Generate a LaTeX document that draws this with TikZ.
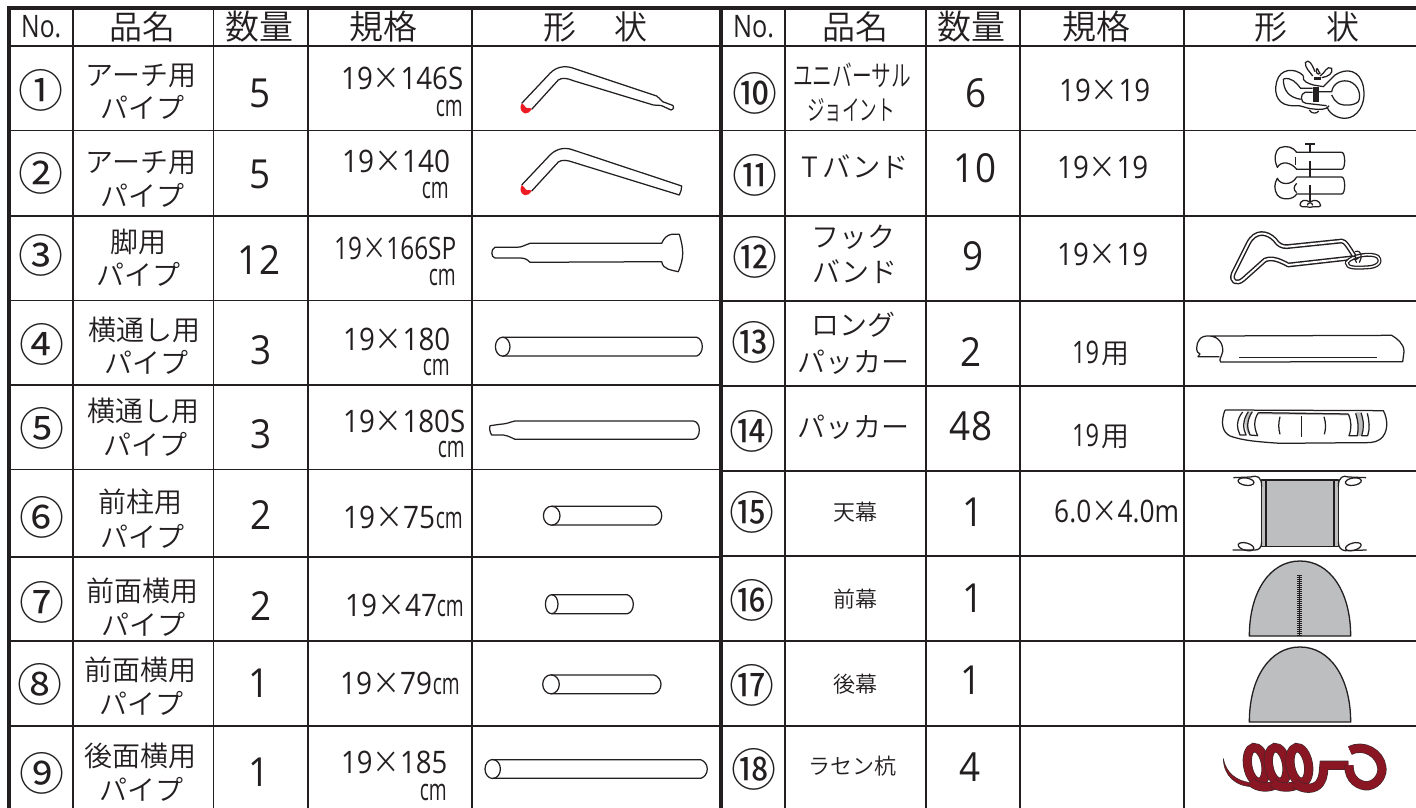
\documentclass[tikz,border=0pt]{standalone}
\usepackage{fontspec}
\usepackage{graphicx}
\IfFontExistsTF{Noto Sans CJK JP DemiLight}{\newfontfamily\jp{Noto Sans CJK JP DemiLight}}{\newfontfamily\jp{Noto Sans CJK JP}}
\newfontfamily\jpr{Noto Sans CJK JP}
\newfontfamily\numf{Open Sans}
\newfontfamily\qtf[FakeStretch=0.92]{Open Sans}
\definecolor{ink}{HTML}{231F20}
\definecolor{tent}{HTML}{BCBEC0}
\definecolor{coil}{HTML}{8A1523}
\definecolor{coiledge}{HTML}{3A2A2C}
\definecolor{capred}{HTML}{ED1C24}
\newcount\nn
\newcommand\nx{\global\advance\nn by 1 }
\newcommand\sx[2]{\resizebox{#1pt}{\height}{#2}}
\newcommand\jt[4]{\nx\node[txt,anchor=base] (t\the\nn) at (#1,{#2+.38*#3}) {\fontsize{#3}{#3}\selectfont\jp #4};}
\newcommand\jw[5]{\nx\node[txt,anchor=base] (t\the\nn) at (#1,{#2+.38*#3}) {\sx{#4}{\fontsize{#3}{#3}\selectfont\jp #5}};}
\newcommand\nt[4]{\nx\node[txt,anchor=base west] (t\the\nn) at (#1,#3) {\sx{#2}{\fontsize{31}{31}\selectfont\numf #4}};}
\newcommand\cmr[2]{\nx\node[txt,anchor=base east] (t\the\nn) at (#1,#2) {\sx{27}{\fontsize{30}{30}\selectfont\numf cm}};}
\newcommand\qt[3]{\nx\node[txt,anchor=base] (t\the\nn) at (#1,#2) {\fontsize{40}{40}\selectfont\qtf #3};}
\newcommand\ci[3]{\nx\node[txt,anchor=base] (t\the\nn) at (#1,{#2+.38*45}) {\fontsize{45}{45}\selectfont\jpr #3};}
\newcommand\X{\smash{\jp ×}}
\tikzset{
  txt/.style={inner sep=0pt,text=ink},
  thin rule/.style={draw=ink,line width=1.7pt},
  thick rule/.style={draw=ink,line width=4pt},
  part/.style={draw=ink,line width=1.25pt,line join=round},
  tentfill/.style={draw=ink,line width=1.3pt,fill=tent,line join=round},
  coilstroke/.style={preaction={draw=coiledge,line width=9.2pt},draw=coil,line width=8pt}
}
\begin{document}
\begin{tikzpicture}[x=1pt,y=-1pt]
\useasboundingbox (0,0) rectangle (1416,808);
% rules
\foreach \yy in {46,130.5,216,300.5,385,469.5,557,641,726} \draw[thin rule] (7,\yy) -- (720,\yy);
\foreach \yy in {46,130.5,216,301,386,471,556,641,726} \draw[thin rule] (720,\yy) -- (1416,\yy);
\foreach \xx in {73,213.5,308,472,785,926,1020,1184} \draw[thin rule] (\xx,8) -- (\xx,808);
\draw[thick rule] (9,6.3) -- (9,808);
\draw[thick rule] (720.7,8) -- (720.7,808);
\draw[thick rule] (7,8.3) -- (1416,8.3);
% header
\nt{21}{40}{38}{No.}
\jt{142.5}{27}{33}{品名}
\jt{259}{27}{34}{数量}
\jt{383.5}{27}{34}{規格}
\jt{559.5}{27}{33}{形}
\jt{630.5}{27}{33}{状}
\nt{733}{41}{38}{No.}
\jt{855}{27}{33}{品名}
\jt{971.5}{27}{34}{数量}
\jt{1096}{27}{34}{規格}
\jt{1270.5}{27}{33}{形}
\jt{1343}{27}{33}{状}
% numbers
\ci{41}{90}{①}\ci{41}{173}{②}\ci{41}{255}{③}\ci{42}{344}{④}\ci{42}{428}{⑤}\ci{42}{517}{⑥}\ci{42}{602}{⑦}\ci{40}{684}{⑧}\ci{42}{773}{⑨}
\ci{755}{93}{⑩}\ci{755}{175}{⑪}\ci{755}{257}{⑫}\ci{754}{342}{⑬}\ci{752}{431}{⑭}\ci{752}{512}{⑮}\ci{752}{600}{⑯}\ci{752}{685}{⑰}\ci{754}{769}{⑱}
% names left
\jt{141}{75}{28}{アーチ用}\jt{142}{108}{28}{パイプ}
\jt{141}{162}{28}{アーチ用}\jt{142}{196}{28}{パイプ}
\jt{138}{242}{28}{脚用}\jt{138}{275}{28}{パイプ}
\jt{144}{330}{28}{横通し用}\jt{146}{363}{28}{パイプ}
\jt{143}{411}{28}{横通し用}\jt{145}{445}{28}{パイプ}
\jt{140}{502}{28}{前柱用}\jt{142}{537}{28}{パイプ}
\jt{142}{591}{28}{前面横用}\jt{143}{625}{28}{パイプ}
\jt{140}{670}{28}{前面横用}\jt{141}{704}{28}{パイプ}
\jt{140}{756}{28}{後面横用}\jt{141}{790}{28}{パイプ}
% names right
\jw{852}{75}{29}{118}{ユニバーサル}\jw{851}{110}{28}{88}{ジョイント}
\jw{855}{167}{28}{108}{T\,バンド}
\jt{853}{237}{28}{フック}\jt{855}{272}{28}{バンド}
\jt{853}{325}{28}{ロング}\jt{853}{362}{28}{パッカー}
\jt{853}{427}{28}{パッカー}
\jt{855}{512}{22}{天幕}\jt{855}{599}{22}{前幕}\jt{855}{684}{22}{後幕}
\jt{852}{766}{22}{ラセン杭}
% quantities
\qt{260}{107}{5}\qt{260}{188}{5}\qt{259}{274}{12}\qt{261}{364}{3}\qt{261}{448}{3}\qt{261}{529}{2}\qt{261}{620}{2}\qt{259}{697}{1}\qt{259}{786}{1}
\qt{976}{107}{6}\qt{975}{182}{10}\qt{973}{270}{9}\qt{971}{366}{2}\qt{971}{440}{48}\qt{973}{526}{1}\qt{973}{612}{1}\qt{971}{694}{1}\qt{970}{781}{4}
% specs left
\nt{341}{122}{90}{19\X146S}\cmr{463}{116}
\nt{342}{108}{172.6}{19\X140}\cmr{449}{198}
\nt{334}{122}{259}{19\X166SP}\cmr{456}{285}
\nt{343}{107}{350}{19\X180}\cmr{450}{375}
\nt{343}{122}{432}{19\X180S}\cmr{465}{457}
\nt{343}{92}{528}{19\X75}\cmr{463}{528}
\nt{345}{92}{616}{19\X47}\cmr{464}{616}
\nt{340}{92}{694}{19\X79}\cmr{460}{694}
\nt{341}{106}{773}{19\X185}\cmr{447}{800}
% specs right
\nt{1059}{91}{102}{19\X19}
\nt{1057}{91}{178}{19\X19}
\nt{1057}{91}{265}{19\X19}
\nt{1072}{27}{363}{19}\jt{1115}{352.5}{28}{用}
\nt{1072}{27}{446}{19}\jt{1115}{435.5}{28}{用}
\nt{1054}{125}{522}{6.0\X4.0m}
% pipes 1-2
\fill[capred] (521.7,103.3) .. controls (519,108) and (521,112) .. (525,113.5) .. controls (528,113.5) and (530,112) .. (531.7,109.3) -- (530,108) .. controls (527,109) and (524,107) .. (524,105) -- cycle;
\draw[part] (521.7,103.3) -- (550,73.3) .. controls (556,67) and (564,65.5) .. (571.7,67.7) -- (656.7,96) .. controls (659,97) and (660,100) .. (662.7,101.7) -- (673,105.5) .. controls (674,107) and (674,109) .. (671,110) -- (661.7,105.7) .. controls (658,105) and (656,105.5) .. (653.3,105) -- (573.3,80.7) .. controls (567,78) and (562,77.5) .. (558.3,80) -- (531.7,109.3);
\fill[capred] (521.7,185) .. controls (519,190) and (521,194) .. (525,195.2) .. controls (528,195.2) and (530,194) .. (531.7,191) -- (530,190) .. controls (527,191) and (524,189) .. (524,187) -- cycle;
\draw[part] (521.7,185) -- (550,155) .. controls (556,149) and (564,147) .. (571.7,149.5) -- (681.7,186) .. controls (681.5,189) and (681,192) .. (679.3,195) -- (573.3,162.3) .. controls (567,160) and (562,159.5) .. (558.3,162) -- (531.7,191);
% pipe 3
\draw[part] (495,247.3) -- (516.7,247.3) .. controls (522,247.3) and (525,245) .. (530,243.3) -- (661.7,243.3) .. controls (664,238) and (667,235) .. (671.7,234.3) -- (679.3,234.3) .. controls (684,250) and (684,258) .. (678.3,271.7) .. controls (672,270) and (663,270) .. (661.7,261.7) -- (530,262.3) .. controls (527,259) and (524,258) .. (520,258) -- (495,258) .. controls (491,257.5) and (490.5,249) .. (495,247.3) -- cycle;
% pipes 4-9
\draw[part] (502.7,337.3) -- (696.7,337.3) .. controls (700,338) and (702.3,342) .. (702.3,346.7) .. controls (702.3,351) and (700,355) .. (696.7,356) -- (502.7,356);
\draw[part] (502.7,346.7) ellipse [x radius=7.3,y radius=9.5];
\draw[part] (515,421) -- (693.3,421) .. controls (697,421.5) and (699.3,425) .. (699.3,430) .. controls (699.3,435) and (697,439) .. (693.3,439.3) -- (515,439.3) .. controls (512,438.5) and (510,436) .. (503.3,435) -- (491.7,435) .. controls (489.5,432) and (489.5,428) .. (490,425.7) -- (500,424.3) .. controls (507,424) and (510,422) .. (515,421) -- cycle;
\draw[part] (551.7,506.3) -- (655,506.3) .. controls (659,507) and (661.7,511) .. (661.7,515.7) .. controls (661.7,520) and (659,524) .. (655,525) -- (551.7,525);
\draw[part] (551.7,515.7) ellipse [x radius=8.3,y radius=9.5];
\draw[part] (551.7,594.7) -- (627.3,594.7) .. controls (631,596) and (633.3,600) .. (633.3,604) .. controls (633.3,609) and (631,613) .. (627.3,613.7) -- (551.7,613.7);
\draw[part] (551.7,604.2) ellipse [x radius=6.3,y radius=9.5];
\draw[part] (551,675) -- (654,675) .. controls (658,676) and (661,680) .. (661,684.3) .. controls (661,689) and (658,693) .. (654,693.7) -- (551,693.7);
\draw[part] (551,684.3) ellipse [x radius=8.3,y radius=9.5];
\draw[part] (492.7,759.7) -- (700.7,759.7) .. controls (704,761) and (707.3,764) .. (707.3,769) .. controls (707.3,774) and (704,777.5) .. (700.7,778.3) -- (492.7,778.3);
\draw[part] (492.7,769) ellipse [x radius=7.7,y radius=9.5];
% items 10-12
\begin{scope}[shift={(1180,40)},scale=1/3]
 % universal joint
 \draw[part] (370,107) .. controls (345,82) and (300,85) .. (290,125) .. controls (280,165) and (295,200) .. (345,197) .. controls (365,195) and (375,205) .. (400,207) .. controls (420,210) and (445,208) .. (447,197);
 \draw[part] (465,105) .. controls (500,82) and (540,90) .. (550,140) .. controls (560,195) and (530,235) .. (495,235) .. controls (465,235) and (445,215) .. (440,200);
 \draw[part] (310,117) .. controls (335,110) and (350,130) .. (362,145) -- (398,145);
 \draw[part] (310,117) .. controls (310,150) and (325,172) .. (362,178);
 \draw[part] (417,155) -- (455,155) .. controls (460,125) and (490,118) .. (510,125) .. controls (535,135) and (545,165) .. (535,185) .. controls (520,198) and (490,198) .. (475,190) .. controls (465,185) and (460,175) .. (455,165);
 \draw[part] (398,157) -- (375,157) .. controls (360,160) and (360,190) .. (378,190) -- (440,197);
 \draw[part] (370,107) .. controls (365,125) and (385,130) .. (400,135) -- (430,140) -- (465,105);
 \draw[part] (405,95) .. controls (395,70) and (385,55) .. (376,68) .. controls (375,85) and (390,95) .. (398,108);
 \draw[part] (410,85) .. controls (405,100) and (415,105) .. (420,100) .. controls (412,90) and (415,85) .. (410,85);
 \draw[part] (420,108) .. controls (435,100) and (440,75) .. (455,85) .. controls (460,100) and (445,110) .. (425,113);
 \draw[part] (388,210) .. controls (395,222) and (410,222) .. (416,213);
 \fill[ink] (398,140) rectangle (417,187);
 \fill[ink] (403,112) rectangle (422,121);
 % T band
 \draw[part] (350,337) -- (485,337) .. controls (497,337) and (497,388) .. (485,388) -- (350,388) .. controls (335,368) and (305,360) .. (292,382) .. controls (282,360) and (282,335) .. (300,323) .. controls (320,315) and (340,322) .. (350,337);
 \draw[part] (347,350) -- (347,375);
 \draw[part] (350,411) -- (485,411) .. controls (497,411) and (497,462) .. (485,462) -- (350,462) .. controls (340,480) and (305,482) .. (292,465) .. controls (282,450) and (282,430) .. (292,415) .. controls (300,435) and (335,438) .. (350,411);
 \draw[part] (350,430) .. controls (340,440) and (340,450) .. (350,458);
 \draw[ink,line width=1.7pt] (390,312) -- (390,335) (390,362) -- (390,410) (390,436) -- (390,482);
 \draw[ink,line width=2.2pt] (375,311) -- (406,311);
 \draw[part] (390,486) .. controls (375,476) and (360,482) .. (360,495) .. controls (365,505) and (375,497) .. (390,502) .. controls (405,497) and (415,505) .. (422,497) .. controls (420,482) and (405,476) .. (390,486);
 \draw[part] (382,496) .. controls (382,486) and (398,486) .. (398,496);
 % hook band
 \draw[ink,line width=4.8pt,line join=round,line cap=round] (530,652) -- (325,675) .. controls (305,665) and (280,650) .. (255,660) -- (190,718) .. controls (170,735) and (150,725) .. (160,700) -- (205,610) .. controls (225,570) and (262,575) .. (285,600) .. controls (295,615) and (305,620) .. (320,620) -- (485,603) .. controls (495,603) and (505,620) .. (525,652);
 \draw[white,line width=1.9pt,line join=round,line cap=round] (530,652) -- (325,675) .. controls (305,665) and (280,650) .. (255,660) -- (190,718) .. controls (170,735) and (150,725) .. (160,700) -- (205,610) .. controls (225,570) and (262,575) .. (285,600) .. controls (295,615) and (305,620) .. (320,620) -- (485,603) .. controls (495,603) and (505,620) .. (525,652);
 \draw[ink,line width=4pt,line join=round] (500,668) .. controls (515,645) and (575,638) .. (593,650) .. controls (610,670) and (585,682) .. (560,682) .. controls (530,684) and (500,685) .. (500,668) -- cycle;
 \draw[white,line width=1.4pt,line join=round] (500,668) .. controls (515,645) and (575,638) .. (593,650) .. controls (610,670) and (585,682) .. (560,682) .. controls (530,684) and (500,685) .. (500,668) -- cycle;
 \draw[ink,line width=1.2pt] (520,650) .. controls (535,645) and (520,660) .. (530,668) (525,635) .. controls (545,628) and (548,650) .. (538,668);
\end{scope}
% items 13-15
\begin{scope}[shift={(1180,300)},scale=1/3]
 \draw[part] (90,108) -- (635,106) .. controls (650,115) and (672,130) .. (672,155) -- (668,185) -- (122,186) .. controls (115,180) and (125,170) .. (128,155) .. controls (130,130) and (115,110) .. (90,108) .. controls (60,105) and (50,125) .. (50,145) .. controls (50,155) and (55,160) .. (60,162) -- (54,170) -- (118,170);
 \draw[ink,line width=1.6pt] (178,173) -- (592,173);
 \fill[tent] (235,337) -- (505,340) -- (503,346) -- (235,343) -- cycle;
 \fill[tent] (205,335) .. controls (192,360) and (192,385) .. (207,405) -- (213,405) .. controls (200,385) and (200,360) .. (217,335) -- cycle;
 \fill[tent] (527,337) .. controls (535,360) and (535,385) .. (530,408) -- (542,408) .. controls (550,385) and (550,360) .. (540,337) -- cycle;
 \draw[part] (135,330) -- (610,332) .. controls (625,360) and (625,400) .. (600,418) .. controls (585,430) and (560,428) .. (540,428) -- (300,430) .. controls (230,425) and (190,422) .. (150,408) .. controls (125,395) and (122,365) .. (135,330);
 \draw[part] (235,338) -- (505,342);
 \draw[part] (188,336) .. controls (168,360) and (170,385) .. (180,405) -- (198,405) .. controls (188,385) and (188,360) .. (205,335);
 \draw[part] (217,335) .. controls (200,360) and (200,385) .. (210,405) -- (233,407) .. controls (222,385) and (220,360) .. (235,338);
 \draw[part] (505,342) .. controls (515,365) and (515,385) .. (507,407) -- (532,407) .. controls (536,385) and (535,365) .. (527,340);
 \draw[part] (543,338) .. controls (552,365) and (552,385) .. (545,407) -- (563,407) .. controls (570,385) and (568,365) .. (562,340);
 \draw[part] (300,350) .. controls (295,370) and (295,385) .. (300,403);
 \draw[part] (365,348) -- (365,410);
 \draw[part] (432,350) .. controls (438,370) and (438,385) .. (433,403);
 % canopy
 \draw[tentfill,line width=1.6pt] (245,540) rectangle (475,740);
 \draw[part] (258,540) -- (258,740) (462,540) -- (462,740);
 \foreach \sxx/\syy/\rot in {198/545/-8, 520/545/8, 198/740/-15, 520/740/15}
   \draw[part,rotate around={\rot:(\sxx,\syy)}] (\sxx,\syy) ellipse [x radius=24,y radius=11];
 \draw[part] (160,533) -- (212,531) .. controls (232,525) and (245,530) .. (245,560);
 \draw[part] (558,533) -- (505,531) .. controls (490,525) and (475,530) .. (475,560);
 \draw[part] (158,750) -- (225,750) .. controls (235,750) and (245,745) .. (245,725);
 \draw[part] (560,750) -- (495,752) .. controls (485,750) and (475,745) .. (475,725);
\end{scope}
% items 16-18
\begin{scope}[shift={(1180,560)},scale=1/3]
 \draw[tentfill] (208,228) .. controls (208,95) and (270,3) .. (360,3) .. controls (450,3) and (512,95) .. (512,228) -- cycle;
 \draw[ink,line width=1pt] (359,45) -- (359,226);
 \draw[ink,line width=4.5pt,dash pattern=on 0.9pt off 1.1pt] (359,45) -- (359,226);
 \draw[tentfill] (208,486) .. controls (208,353) and (270,261) .. (360,261) .. controls (450,261) and (512,353) .. (512,486) -- cycle;
 % coil
 \filldraw[draw=coiledge,fill=coil,line width=.5pt] (130,595) .. controls (138,640) and (170,662) .. (210,668) -- (220,680) .. controls (165,680) and (130,645) .. (130,595) -- cycle;
 \draw[coilstroke,rotate around={10:(230,615)}] (230,615) ellipse [x radius=27,y radius=53];
 \draw[coilstroke] (213,665) .. controls (233,685) and (268,685) .. (290,672);
 \draw[coilstroke,rotate around={10:(293,615)}] (293,615) ellipse [x radius=27,y radius=53];
 \draw[coilstroke] (278,668) .. controls (298,685) and (333,685) .. (355,672);
 \draw[coilstroke,rotate around={10:(358,615)}] (358,615) ellipse [x radius=27,y radius=53];
 \draw[coilstroke] (345,670) .. controls (370,690) and (405,690) .. (420,668) .. controls (432,650) and (430,630) .. (432,616) -- (505,616);
 \draw[coilstroke,line cap=butt] (507,616) .. controls (505,660) and (540,680) .. (565,677) .. controls (595,672) and (610,640) .. (605,620) .. controls (600,580) and (550,550) .. (510,572);
\end{scope}
\end{tikzpicture}
\end{document}
